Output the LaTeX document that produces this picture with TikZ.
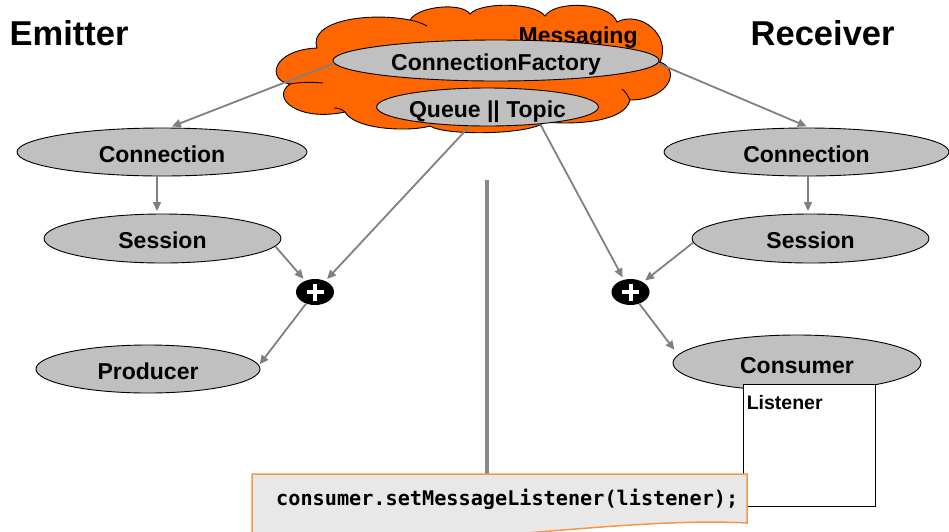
\documentclass[tikz,border=0pt]{standalone}
\usepackage{fontspec}
\setmainfont{Liberation Sans}
\newfontfamily\codefont{DejaVu Sans Mono}
\usetikzlibrary{shapes.geometric,arrows.meta}
\definecolor{cloudorange}{RGB}{255,102,0}
\definecolor{nodegray}{RGB}{192,192,192}
\definecolor{linkgray}{RGB}{128,128,128}
\definecolor{stemgray}{RGB}{136,136,136}
\definecolor{notefill}{RGB}{232,232,232}
\definecolor{noteborder}{RGB}{247,150,70}
\tikzset{
  blob/.style={ellipse, draw=black, line width=0.9pt, fill=nodegray, inner sep=0pt,
    font=\fontsize{23}{27}\selectfont\bfseries, text height=20pt, text depth=0pt},
  link/.style={draw=linkgray, line width=1.8pt, -{Triangle[length=9pt,width=8pt]}, shorten >=2.5pt},
  plusdot/.style={ellipse, fill=black, inner sep=0pt, minimum width=38pt, minimum height=26pt},
  crossbar/.style={draw=white, line width=4pt},
  heading/.style={anchor=base west, inner sep=0pt, font=\fontsize{34.5}{40}\selectfont\bfseries},
  cloudline/.style={draw=black, line width=0.9pt},
}
\begin{document}
\begin{tikzpicture}[x=1pt,y=-1pt]
\useasboundingbox (0,0) rectangle (949,531);

% headings
\node[heading] (emit) at (9.5,45) {Emitter};
\node[heading] (recv) at (750.5,45) {Receiver};

% the messaging cloud
\path[cloudline, fill=cloudorange]
  (290,84) .. controls (266,80) and (272,50) .. (317,48)
  .. controls (308,20) and (370,12) .. (410,20)
  .. controls (418,6) and (462,2) .. (470,14)
  .. controls (480,2) and (535,2) .. (545,16)
  .. controls (555,0) and (610,2) .. (617,22)
  .. controls (640,10) and (672,35) .. (660,62)
  .. controls (682,70) and (668,100) .. (630,100)
  .. controls (625,122) and (575,125) .. (545,122)
  .. controls (530,135) and (445,136) .. (430,126)
  .. controls (410,132) and (355,130) .. (345,112)
  .. controls (298,122) and (270,98) .. (290,84) -- cycle;
% inner folds of the cloud
\draw[cloudline] (290,84) .. controls (300,82) and (312,82) .. (323,83);
\draw[cloudline] (345,112) .. controls (342,109) and (338,108) .. (334,108);
\draw[cloudline] (410,20) .. controls (415,21) and (422,23) .. (427,26);
\draw[cloudline] (660,62) .. controls (656,64) and (652,66) .. (647,68);
\draw[cloudline] (630,100) .. controls (628,96) and (626,92) .. (622,89);

\node[anchor=base west, inner sep=0pt, font=\fontsize{23}{27}\selectfont\bfseries] (msg) at (518.5,43) {Messaging};

% broker objects
\node[blob, minimum width=326pt, minimum height=41pt] (cf) at (496,60.5) {ConnectionFactory};
\node[blob, minimum width=193pt, minimum height=38pt] (queue) at (487.5,107) {Queue || Topic};

% emitter side
\node[blob, minimum width=290pt, minimum height=48pt] (lconn) at (162,152) {Connection};
\node[blob, minimum width=237pt, minimum height=49pt] (lsess) at (162.5,238.5) {Session};
\node[blob, minimum width=224pt, minimum height=48pt] (prod) at (148,369) {Producer};
\node[plusdot] (lplus) at (315,292) {};

% receiver side
\node[blob, minimum width=285pt, minimum height=48pt] (rconn) at (806.5,152) {Connection};
\node[blob, minimum width=237pt, minimum height=49pt] (rsess) at (810.5,238.5) {Session};
\node[blob, minimum width=248pt, minimum height=56pt] (cons) at (797,363) {Consumer};
\node[plusdot] (rplus) at (630.5,292) {};

% plus signs
\foreach \p in {lplus,rplus} {
  \draw[crossbar] ([xshift=-8.5pt]\p.center) -- ([xshift=8.5pt]\p.center);
  \draw[crossbar] ([yshift=-8.5pt]\p.center) -- ([yshift=8.5pt]\p.center);
}

% connectors
\draw[link, shorten >=3pt] (cf.181.5) -- (lconn.74);
\draw[link, shorten >=3pt] (cf.-1) -- (rconn.83);
\draw[link] ([xshift=-5pt]lconn.south) -- ([xshift=-5pt]lconn.south |- lsess.north);
\draw[link] ([xshift=1.5pt]rconn.south) -- ([xshift=1.5pt]rconn.south |- rsess.north);
\draw[link] (lsess.-4.5) -- (lplus);
\draw[link] (queue) -- (lplus);
\draw[link] (queue.-18.6) -- (rplus);
\draw[link] (rsess.182) -- (rplus);
\draw[link, shorten >=1pt] (lplus) -- (prod.2);
\draw[link, shorten >=6pt] (rplus) -- (cons.176);

% listener attached to the consumer
\node[draw=black, line width=0.9pt, fill=white, anchor=north west, inner sep=0pt,
      minimum width=132pt, minimum height=122pt] (lis) at (743,384) {};
\node[anchor=base west, inner sep=0pt, font=\fontsize{19.5}{23}\selectfont\bfseries]
      (listxt) at (746.6,409) {Listener};

% code note with its stem
\coordinate (stem) at (487,180);
\coordinate (notetop) at (487,474);
\draw[draw=stemgray, line width=4pt] (stem) -- (notetop);
\path[draw=noteborder, line width=1.5pt, fill=notefill]
  (252,474) -- (747,474) -- (747,523)
  .. controls (620,516) and (420,552) .. (252,545) -- cycle;
\node[anchor=base west, inner sep=0pt, font=\codefont\fontsize{20.2}{24}\selectfont\bfseries]
      (code) at (276,505) {consumer.setMessageListener(listener);};
\end{tikzpicture}
\end{document}
